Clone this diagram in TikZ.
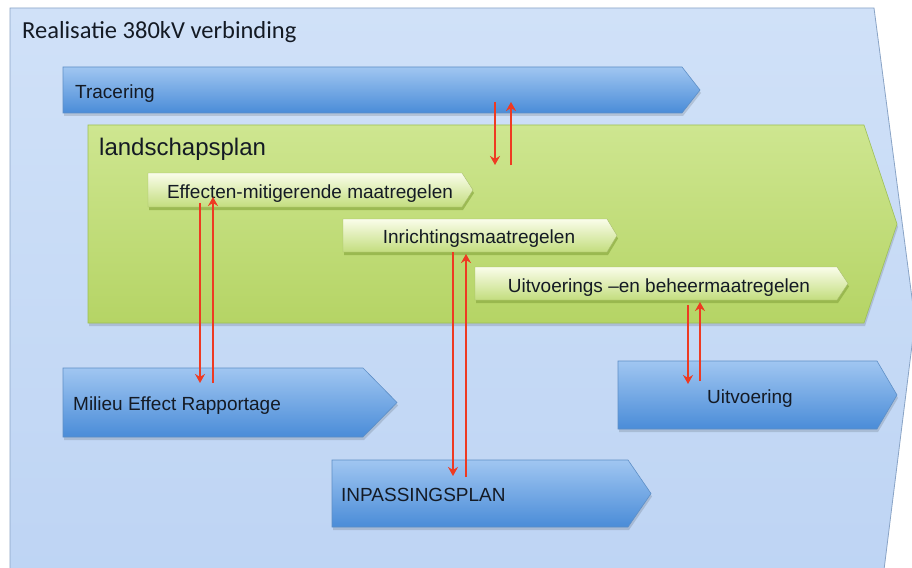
\documentclass[tikz,border=0pt]{standalone}
\usepackage{fontspec}
\setmainfont{Liberation Sans}
\newfontfamily\titlefont{Carlito}
\usetikzlibrary{arrows.meta}
\definecolor{outerTop}{HTML}{D0E1F8}
\definecolor{outerBot}{HTML}{BCD3F3}
\definecolor{outerEdge}{HTML}{8AA4C6}
\definecolor{blueTop}{HTML}{A0C6F1}
\definecolor{blueBot}{HTML}{4A8CD8}
\definecolor{blueEdge}{HTML}{5E8FC6}
\definecolor{bigTop}{HTML}{CEE690}
\definecolor{bigBot}{HTML}{B5D465}
\definecolor{bigEdge}{HTML}{9CBF55}
\definecolor{gTop}{HTML}{FAFDEA}
\definecolor{gBot}{HTML}{C3DD7E}
\definecolor{gShadow}{HTML}{8FAE45}
\definecolor{arrowred}{HTML}{EE3A22}
\definecolor{labeltext}{HTML}{141A24}
\newcommand\mychev[6]{\path[#1] (#2,#3) -- (#4,#3) -- (#5,{(#3+#6)/2}) -- (#4,#6) -- (#2,#6) -- cycle;}
\begin{document}
\begin{tikzpicture}[x=1pt,y=-1pt,
  lbl/.style={inner sep=0pt, font=\fontsize{19}{22}\selectfont, text=labeltext},
  bluebox/.style={top color=blueTop, bottom color=blueBot, draw=blueEdge, line width=0.6pt},
  bigbox/.style={top color=bigTop, bottom color=bigBot, draw=bigEdge, line width=0.6pt},
  greenbar/.style={top color=gTop, bottom color=gBot, draw=gBot!85!black, line width=0.4pt},
  shadowpath/.style={fill=black, opacity=0.13},
  redarr/.style={draw=arrowred, line width=2.6pt, -{Stealth[length=9pt,width=10pt]}}]
\useasboundingbox (0,0) rectangle (912,567);
\fill[white] (0,0) rectangle (912,567);
\clip (0,0) rectangle (912,567);
% outer chevron
\path[top color=outerTop, bottom color=outerBot, draw=outerEdge, line width=0.8pt]
  (10,8) -- (874,8) -- (915,321) -- (876,634) -- (10,634) -- cycle;
\node[inner sep=0pt, anchor=base west, font=\titlefont\fontsize{24.5}{28}\selectfont, text=labeltext] (title) at (22,39) {Realisatie 380kV verbinding};
% blue chevrons (shadows first)
\mychev{shadowpath, xshift=1pt, yshift=-3pt}{63}{67}{682}{700}{113}
\mychev{bluebox}{63}{67}{682}{700}{113}
\mychev{shadowpath, xshift=1pt, yshift=-3pt}{63}{368}{363}{397}{437}
\mychev{bluebox}{63}{368}{363}{397}{437}
\mychev{shadowpath, xshift=1pt, yshift=-3pt}{332}{460}{628}{651}{527}
\mychev{bluebox}{332}{460}{628}{651}{527}
\mychev{shadowpath, xshift=1pt, yshift=-3pt}{618}{361}{877}{897}{429}
\mychev{bluebox}{618}{361}{877}{897}{429}
% big green chevron
\mychev{shadowpath, xshift=1pt, yshift=-3pt}{88}{125}{864}{897}{323}
\mychev{bigbox}{88}{125}{864}{897}{323}
% small green chevrons
\mychev{fill=gShadow, opacity=0.75, xshift=1pt, yshift=-3pt}{148}{173}{462}{473}{207}
\mychev{greenbar}{148}{173}{462}{473}{207}
\mychev{fill=gShadow, opacity=0.75, xshift=1pt, yshift=-3pt}{343}{219}{607}{617}{252}
\mychev{greenbar}{343}{219}{607}{617}{252}
\mychev{fill=gShadow, opacity=0.75, xshift=1pt, yshift=-3pt}{475}{267}{837}{848}{300}
\mychev{greenbar}{475}{267}{837}{848}{300}
% labels
\node[lbl, anchor=base west] (trc) at (75,99) {Tracering};
\node[lbl, anchor=base west, font=\fontsize{24}{28}\selectfont] (lsp) at (99,155) {landschapsplan};
\node[lbl, anchor=base] (eff) at (310,198) {Effecten-mitigerende maatregelen};
\node[lbl, anchor=base] (inr) at (479,243) {Inrichtingsmaatregelen};
\node[lbl, anchor=base] (uvb) at (659,292) {Uitvoerings –en beheermaatregelen};
\node[lbl, anchor=base west] (mer) at (73,410) {Milieu Effect Rapportage};
\node[lbl, anchor=base west] (inp) at (341,501) {INPASSINGSPLAN};
\node[lbl, anchor=base] (uit) at (750,403) {Uitvoering};
% arrow end points
\coordinate (t1) at (495,102); \coordinate (l1) at (495,165);
\coordinate (t2) at (511,102); \coordinate (l2) at (511,165);
\coordinate (e1) at (200,203); \coordinate (m1) at (200,383);
\coordinate (e2) at (213,197); \coordinate (m2) at (213,383);
\coordinate (i1) at (453,252); \coordinate (p1) at (453,476);
\coordinate (i2) at (466,254); \coordinate (p2) at (466,477);
\coordinate (u1) at (688,305); \coordinate (v1) at (688,384);
\coordinate (u2) at (700,302); \coordinate (v2) at (700,381);
% red arrows
\draw[redarr] (t1) -- (l1);
\draw[redarr] (l2) -- (t2);
\draw[redarr] (e1) -- (m1);
\draw[redarr] (m2) -- (e2);
\draw[redarr] (i1) -- (p1);
\draw[redarr] (p2) -- (i2);
\draw[redarr] (u1) -- (v1);
\draw[redarr] (v2) -- (u2);
\end{tikzpicture}
\end{document}
